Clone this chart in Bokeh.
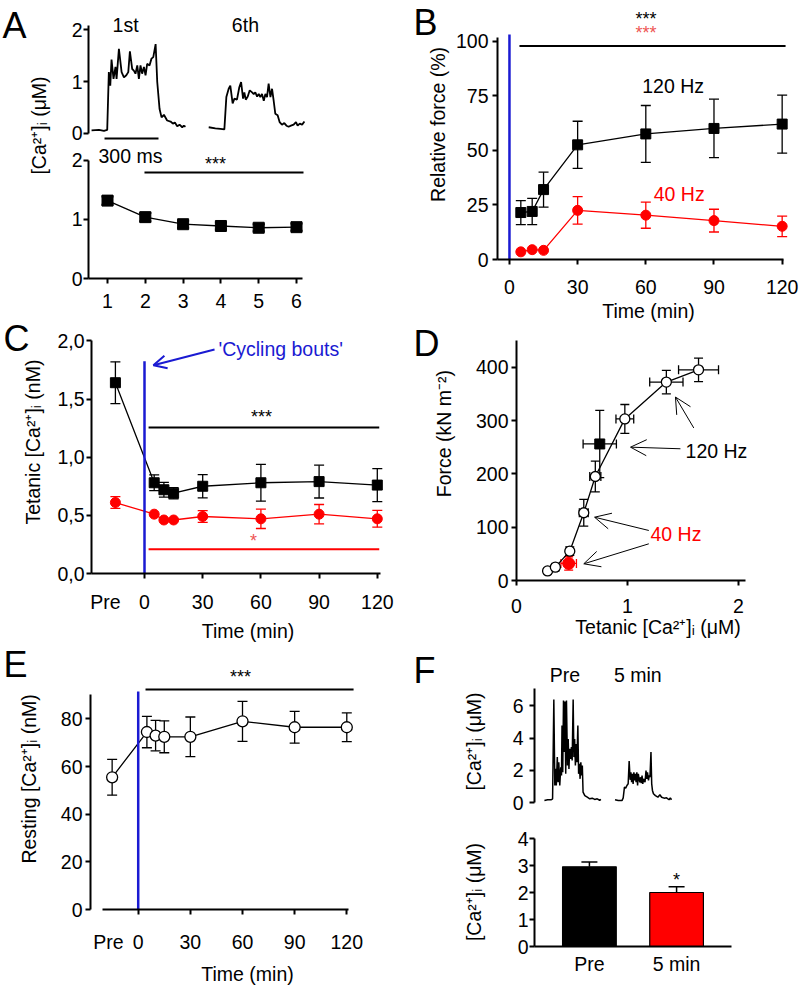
import math
from bokeh.plotting import figure
from bokeh.layouts import row, column
from bokeh.models import (Range1d, FactorRange, FixedTicker, Label, Arrow, OpenHead,
                          TeeHead, Whisker, ColumnDataSource, CustomJSTickFormatter)
from bokeh.core.properties import value
from bokeh.embed import file_html
from bokeh.resources import INLINE

FONT = "Liberation Sans"
FS = "19.5px"
LETTER = "36px"
RED = "#ff0000"
PINK = "#ee5555"
BLUE = "#1a1ad2"

# ---------------- data ----------------
# A: tetanic [Ca2+]i during repeated bouts
a_bout = [1, 2, 3, 4, 5, 6]
a_ca = [1.32, 1.04, 0.92, 0.89, 0.86, 0.87]
a_ca_err = [0.07, 0.07, 0.06, 0.06, 0.06, 0.06]
a_xticks = [1, 2, 3, 4, 5, 6]
a_yticks = [0, 1, 2]
# A: example traces (time in ms, [Ca2+]i in uM)
a_tr1_t = [0, 41, 69, 87, 96, 104, 111, 122, 133, 139, 152, 167, 180, 193, 204, 213, 226, 235, 244, 254,
           263, 272, 281, 291, 300, 309, 322, 333, 343, 356, 365, 378, 389, 402, 420, 439, 452, 463, 476,
           489, 504, 513, 522]
a_tr1_ca = [0.06, 0.07, 0.05, 0.07, 1.18, 0.92, 1.42, 1.05, 1.28, 1.05, 1.63, 1.18, 1.08, 1.12, 1.18, 1.58,
            1.24, 1.21, 1.15, 1.31, 1.05, 1.31, 1.15, 1.28, 1.12, 1.34, 1.31, 1.44, 1.47, 1.72, 0.99, 0.47,
            0.31, 0.36, 0.25, 0.23, 0.19, 0.21, 0.14, 0.17, 0.12, 0.15, 0.13]
a_tr6_t = [0, 37, 65, 87, 98, 111, 120, 133, 143, 157, 170, 180, 191, 198, 206, 217, 228, 241, 250, 259,
           269, 278, 287, 296, 306, 315, 324, 333, 343, 352, 361, 370, 383, 394, 407, 420, 432, 444, 457,
           472, 485, 494, 506, 519, 532]
a_tr6_ca = [0.12, 0.10, 0.09, 0.08, 0.70, 0.86, 0.92, 0.58, 0.67, 0.65, 0.89, 0.99, 0.67, 0.79, 0.65, 0.71,
            0.83, 0.79, 0.76, 0.79, 0.71, 0.76, 0.70, 0.76, 0.63, 0.76, 0.70, 0.96, 0.70, 0.86, 0.63, 0.38,
            0.35, 0.22, 0.17, 0.20, 0.15, 0.13, 0.15, 0.17, 0.22, 0.15, 0.19, 0.17, 0.23]
a_scalebar_ms = 300

# B: relative force
time_min = [5, 10, 15, 30, 60, 90, 120]
time_ticks = [0, 30, 60, 90, 120]
b_force_120 = [21.5, 22.0, 32.0, 52.5, 57.5, 60.0, 62.0]
b_force_120_err = [5.5, 6.0, 8.0, 10.8, 13.0, 13.4, 13.3]
b_force_40 = [3.5, 4.5, 4.2, 22.5, 20.3, 17.8, 15.2]
b_force_40_err = [0.0, 0.0, 0.0, 6.3, 6.0, 5.2, 4.7]
b_yticks = [0, 25, 50, 75, 100]

# C: tetanic [Ca2+]i
c_pre_120, c_pre_120_err = 1.64, 0.18
c_tet_120 = [0.78, 0.72, 0.69, 0.75, 0.78, 0.79, 0.76]
c_tet_120_err = [0.068, 0.063, 0.048, 0.10, 0.158, 0.141, 0.142]
c_pre_40, c_pre_40_err = 0.61, 0.05
c_tet_40 = [0.51, 0.46, 0.46, 0.49, 0.47, 0.51, 0.47]
c_tet_40_err = [0.0, 0.0, 0.0, 0.05, 0.083, 0.083, 0.072]
c_yticks = [0, 0.5, 1.0, 1.5, 2.0]

# D: force vs tetanic [Ca2+]i
d_ca = [0.28, 0.35, 0.48, 0.606, 0.71, 0.976, 1.35, 1.64]
d_ca_err = [0.02, 0.03, 0.03, 0.04, 0.05, 0.08, 0.15, 0.18]
d_force = [18, 25, 55, 127, 195, 303, 372, 395]
d_force_err = [5, 5, 8, 25, 29, 27, 22, 22]
d_120_ca, d_120_ca_err, d_120_force, d_120_force_err = 0.75, 0.15, 256, 63
d_40_ca, d_40_ca_err, d_40_force, d_40_force_err = 0.47, 0.07, 32, 12.5
d_xticks = [0, 1, 2]
d_yticks = [0, 100, 200, 300, 400]

# E: resting [Ca2+]i
e_pre, e_pre_err = 55.5, 7.5
e_rest = [74.5, 73.0, 72.5, 72.5, 79.0, 76.5, 76.5]
e_rest_err = [6.6, 6.4, 6.7, 8.3, 8.4, 6.7, 6.0]
e_yticks = [0, 20, 40, 60, 80]

# F: traces and peak [Ca2+]i
f_tr_pre_t = [0, 13, 28, 33, 38, 42, 46, 48, 52, 55, 58, 62, 66, 69, 71, 74, 77, 80, 83, 86, 89, 93, 96, 99,
              102, 106, 109, 112, 116, 119, 122, 125, 128, 131, 135, 138, 141, 144, 147, 150, 153, 156, 163,
              173, 183, 193, 203, 213, 223, 228]
f_tr_pre_ca = [0.12, 0.17, 0.17, 0.23, 6.4, 1.06, 2.09, 1.06, 2.82, 1.26, 2.5, 1.06, 2.19, 1.68, 4.78, 1.88,
               6.34, 3.13, 6.27, 1.78, 6.34, 2.30, 3.95, 2.09, 3.33, 2.71, 3.44, 2.61, 6.40, 2.82, 3.95, 2.30,
               3.64, 2.50, 4.78, 1.78, 2.40, 1.47, 2.50, 1.68, 2.30, 0.64, 0.43, 0.33, 0.23, 0.27, 0.19, 0.23,
               0.14, 0.19]
f_tr_5_t = [0, 13, 28, 33, 38, 43, 48, 53, 57, 61, 64, 67, 70, 73, 76, 79, 82, 85, 88, 91, 94, 97, 100, 103,
            106, 109, 112, 115, 118, 121, 125, 128, 131, 135, 138, 141, 145, 148, 151, 155, 163, 173, 181, 188,
            198, 208, 218, 223, 228]
f_tr_5_ca = [0.17, 0.12, 0.12, 0.29, 0.95, 0.89, 1.06, 1.16, 2.57, 1.41, 1.88, 1.26, 1.78, 1.16, 1.88, 1.37,
             1.78, 1.26, 1.88, 1.06, 1.78, 1.47, 1.26, 1.57, 1.20, 1.68, 1.16, 1.47, 1.37, 1.26, 1.99, 1.47,
             1.88, 1.37, 1.68, 1.57, 3.13, 1.16, 0.75, 0.54, 0.43, 0.33, 0.48, 0.33, 0.27, 0.29, 0.17, 0.29, 0.17]
f_groups = ["Pre", "5 min"]
f_peak = [2.95, 2.0]
f_peak_err = [0.18, 0.21]
f_colors = ["black", RED]
f_tr_yticks = [0, 2, 4, 6]
f_bar_yticks = [0, 1, 2, 3, 4]

bout_time = 0        # start of cycling bouts
pre_pos = -15        # x position used for the "Pre" point
pre_label_c = -20.1  # where the "Pre" tick label sits in C
pre_label_e = -17.1  # and in E

CA_I = "[Ca\u00b2\u207a]\u1d62"


# ---------------- helpers ----------------
def make_fig(w, h, xr, yr, left, right, top, bottom, xtype="linear", ytype="linear"):
    p = figure(width=w, height=h, x_range=xr, y_range=yr, output_backend="svg",
               toolbar_location=None, title_location=None, x_axis_type=xtype, y_axis_type=ytype,
               min_border_left=left, min_border_right=right, min_border_top=top,
               min_border_bottom=bottom)
    p.outline_line_color = None
    p.xgrid.visible = False
    p.ygrid.visible = False
    p.border_fill_color = "white"
    p.background_fill_color = "white"
    for ax in p.axis:
        ax.axis_line_width = 2
        ax.axis_line_color = "black"
        ax.major_tick_line_width = 2
        ax.major_tick_line_color = "black"
        ax.major_tick_out = 5
        ax.major_tick_in = 0
        ax.minor_tick_line_color = None
        ax.major_label_text_font = FONT
        ax.major_label_text_font_size = FS
        ax.major_label_text_color = "black"
        ax.axis_label_text_font = FONT
        ax.axis_label_text_font_size = FS
        ax.axis_label_text_font_style = "normal"
        ax.axis_label_text_color = "black"
    return p


def helper(w, h):
    p = figure(width=w, height=h, x_range=Range1d(0, w), y_range=Range1d(h, 0),
               x_axis_type=None, y_axis_type=None, output_backend="svg", toolbar_location=None,
               title_location=None, min_border=0)
    p.outline_line_color = None
    p.border_fill_color = "white"
    p.background_fill_color = "white"
    return p


def lab(p, x, y, s, size=FS, color="black", align="center", baseline="middle", angle=0.0):
    p.add_layout(Label(x=x, y=y, text=s, text_font=FONT, text_font_size=size, text_color=color,
                       text_align=align, text_baseline=baseline, angle=angle))


def letter(p, x, y, s):
    lab(p, x, y, s, size=LETTER, align="left", baseline="middle")


def vlabel(p, x, y, s):
    lab(p, x, y, s, angle=math.pi / 2)


def stars(p, x, y, s, color="black"):
    lab(p, x, y, s, size="18px", color=color, baseline="alphabetic")


def yerr(p, x, y, e, color="black", size=10, width=1.3):
    idx = [i for i in range(len(x)) if e[i] > 0]
    src = ColumnDataSource(dict(b=[x[i] for i in idx], lo=[y[i] - e[i] for i in idx],
                                hi=[y[i] + e[i] for i in idx]))
    p.add_layout(Whisker(base="b", lower="lo", upper="hi", source=src, line_color=color, line_width=width,
                         upper_head=TeeHead(size=size, line_color=color, line_width=width),
                         lower_head=TeeHead(size=size, line_color=color, line_width=width)))


def xerr(p, x, y, e, color="black", size=10, width=1.3):
    src = ColumnDataSource(dict(b=list(y), lo=[x[i] - e[i] for i in range(len(x))],
                                hi=[x[i] + e[i] for i in range(len(x))]))
    p.add_layout(Whisker(base="b", lower="lo", upper="hi", source=src, dimension="width",
                         line_color=color, line_width=width,
                         upper_head=TeeHead(size=size, line_color=color, line_width=width),
                         lower_head=TeeHead(size=size, line_color=color, line_width=width)))


def pre_axis(ax, pre_label):
    ax.ticker = FixedTicker(ticks=[pre_label] + time_ticks, minor_ticks=time_ticks)
    ax.formatter = CustomJSTickFormatter(code="return tick < -5 ? 'Pre' : tick.toFixed(0);")
    ax.major_tick_line_color = None
    ax.minor_tick_line_color = "black"
    ax.minor_tick_line_width = 2
    ax.minor_tick_out = 5
    ax.minor_tick_in = 0


# ---------------- Panel A (left column, y 0..318) ----------------
pa_l = helper(58, 318)
letter(pa_l, 2, 25, "A")
vlabel(pa_l, 38, 125, CA_I + " (\u03bcM)")

pa_t = make_fig(346, 145, Range1d(0, 1756), Range1d(-0.231, 2.558), 30, 0, 0, 0, xtype=None)
pa_t.yaxis.bounds = (0, 2.08)
pa_t.yaxis.ticker = FixedTicker(ticks=a_yticks)
pa_t.yaxis.major_label_standoff = 1
tr1_off, tr6_off = 17, 668
pa_t.line([t + tr1_off for t in a_tr1_t], a_tr1_ca, line_color="black", line_width=1.8)
pa_t.line([t + tr6_off for t in a_tr6_t], a_tr6_ca, line_color="black", line_width=1.8)
pa_t.segment(x0=[89], y0=[-0.096], x1=[89 + a_scalebar_ms], y1=[-0.096], line_color="black", line_width=2)
lab(pa_t, 206, 2.08, "1st")
lab(pa_t, 872, 2.08, "6th")

pa_b = make_fig(346, 173, Range1d(0.497, 8.857), Range1d(0, 2.254), 30, 0, 0, 40)
pa_b.xaxis.bounds = (0.497, 6.15)
pa_b.yaxis.bounds = (0, 2)
pa_b.xaxis.ticker = FixedTicker(ticks=a_xticks)
pa_b.yaxis.ticker = FixedTicker(ticks=a_yticks)
pa_b.yaxis.major_label_standoff = 1
pa_b.xaxis.major_label_standoff = 10
pa_b.line(a_bout, a_ca, line_color="black", line_width=1.3)
yerr(pa_b, a_bout, a_ca, a_ca_err, size=12, width=2)
pa_b.scatter(a_bout, a_ca, marker="square", size=11, fill_color="black", line_color="black")
pa_b.segment(x0=[1.978], y0=[1.797], x1=[6.185], y1=[1.797], line_color="black", line_width=2)
stars(pa_b, 3.857, 1.941, "***")
lab(pa_b, 1.608, 2.07, str(a_scalebar_ms) + " ms")

panel_a = row(pa_l, column(pa_t, pa_b))

# ---------------- Panel B (right column, y 0..324) ----------------
pb_l = helper(48, 324)
letter(pb_l, 9, 28, "B")
vlabel(pb_l, 33, 155, "Relative force (%)")

pb = make_fig(347, 324, Range1d(-5.263, 127.63), Range1d(0, 118.58), 44, 0, 0, 56)
pb.xaxis.bounds = (-5.263, 120.8)
pb.yaxis.bounds = (0, 101.5)
pb.xaxis.ticker = FixedTicker(ticks=time_ticks)
pb.yaxis.ticker = FixedTicker(ticks=b_yticks)
pb.xaxis.axis_label = "Time (min)"
pb.yaxis.major_label_standoff = 4
pb.xaxis.major_label_standoff = 15
pb.xaxis.axis_label_standoff = 3
pb.line(time_min, b_force_120, line_color="black", line_width=1.3)
pb.line(time_min, b_force_40, line_color=RED, line_width=1.3)
yerr(pb, time_min, b_force_120, b_force_120_err)
yerr(pb, time_min, b_force_40, b_force_40_err, color=RED)
pb.scatter(time_min, b_force_120, marker="square", size=10, fill_color="black", line_color="black")
pb.scatter(time_min, b_force_40, marker="circle", size=10, fill_color=RED, line_color=RED)
pb.segment(x0=[bout_time], y0=[0], x1=[bout_time], y1=[103], line_color=BLUE, line_width=2.5)
pb.segment(x0=[4.4], y0=[97.8], x1=[121.5], y1=[97.8], line_color="black", line_width=2)
stars(pb, 60.1, 110.2, "***")
stars(pb, 60.1, 103.5, "***", color=PINK)
lab(pb, 72.0, 79.6, "120 Hz")
lab(pb, 74.7, 30.1, "40 Hz", color=RED)

panel_b = row(pb_l, pb)

# ---------------- Panel C (left column, y 318..644) ----------------
pc_l = helper(52, 326)
letter(pc_l, 3, 25, "C")
vlabel(pc_l, 32, 158, "Tetanic " + CA_I + " (nM)")

pc = make_fig(352, 326, Range1d(-27.32, 134.02), Range1d(0, 2.192), 39, 0, 0, 64)
pc.xaxis.bounds = (-27.32, 121.5)
pc.yaxis.bounds = (0, 2.0)
pre_axis(pc.xaxis[0], pre_label_c)
pc.yaxis.ticker = FixedTicker(ticks=c_yticks)
pc.yaxis.formatter = CustomJSTickFormatter(code="return tick.toFixed(1).replace('.', ',');")
pc.xaxis.axis_label = "Time (min)"
pc.yaxis.major_label_standoff = 2
pc.xaxis.major_label_standoff = 12
pc.xaxis.axis_label_standoff = 4
cx = [pre_pos] + time_min
c120 = [c_pre_120] + c_tet_120
c120e = [c_pre_120_err] + c_tet_120_err
c40 = [c_pre_40] + c_tet_40
c40e = [c_pre_40_err] + c_tet_40_err
pc.line(cx, c120, line_color="black", line_width=1.3)
pc.line(cx, c40, line_color=RED, line_width=1.3)
yerr(pc, cx, c120, c120e)
yerr(pc, cx, c40, c40e, color=RED)
pc.scatter(cx, c120, marker="square", size=10, fill_color="black", line_color="black")
pc.scatter(cx, c40, marker="circle", size=10, fill_color=RED, line_color=RED)
pc.segment(x0=[bout_time], y0=[-0.05], x1=[bout_time], y1=[1.824], line_color=BLUE, line_width=2.5)
pc.segment(x0=[2.1], y0=[1.255], x1=[121], y1=[1.255], line_color="black", line_width=2)
pc.segment(x0=[2.1], y0=[0.209], x1=[121], y1=[0.209], line_color=RED, line_width=2)
stars(pc, 60.3, 1.347, "***")
stars(pc, 56.2, 0.276, "*", color=PINK)
pc.add_layout(Arrow(end=OpenHead(size=13, line_color=BLUE, line_width=2), x_start=36.1, y_start=1.925,
                    x_end=4.6, y_end=1.79, line_color=BLUE, line_width=2))
lab(pc, 38.1, 1.933, "'Cycling bouts'", color=BLUE, align="left")

panel_c = row(pc_l, pc)

# ---------------- Panel D (right column, y 324..642) ----------------
pd_l = helper(54, 318)
letter(pd_l, 9, 24, "D")
vlabel(pd_l, 39, 135.5, "Force (kN m\u207b\u00b2)")

pd_ = make_fig(341, 318, Range1d(0, 2.5495), Range1d(0, 480), 58, 0, 0, 62)
pd_.xaxis.bounds = (0, 2.06)
pd_.yaxis.bounds = (0, 450)
pd_.xaxis.ticker = FixedTicker(ticks=d_xticks)
pd_.yaxis.ticker = FixedTicker(ticks=d_yticks)
pd_.xaxis.axis_label = "Tetanic " + CA_I + " (\u03bcM)"
pd_.yaxis.major_label_standoff = 3
pd_.xaxis.major_label_standoff = 13
pd_.xaxis.axis_label_standoff = 0
pd_.line(d_ca, d_force, line_color="black", line_width=1.3)
yerr(pd_, d_ca, d_force, d_force_err, size=9)
xerr(pd_, d_ca, d_force, d_ca_err, size=9)
yerr(pd_, [d_120_ca], [d_120_force], [d_120_force_err], size=9)
xerr(pd_, [d_120_ca], [d_120_force], [d_120_ca_err], size=9)
yerr(pd_, [d_40_ca], [d_40_force], [d_40_force_err], color=RED, size=9)
xerr(pd_, [d_40_ca], [d_40_force], [d_40_ca_err], color=RED, size=9)
pd_.scatter(d_ca, d_force, marker="circle", size=10, fill_color="white", line_color="black", line_width=1.3)
pd_.scatter([d_120_ca], [d_120_force], marker="square", size=10, fill_color="black", line_color="black")
pd_.scatter([d_40_ca], [d_40_force], marker="circle", size=12, fill_color=RED, line_color=RED)
for xs, ys, xe, ye in [(1.477, 247, 1.027, 250), (1.597, 286, 1.432, 344),
                       (1.192, 93.8, 0.703, 118.7), (1.192, 68.8, 0.606, 31.3)]:
    pd_.add_layout(Arrow(end=OpenHead(size=16, line_color="black", line_width=1), x_start=xs, y_start=ys,
                         x_end=xe, y_end=ye, line_color="black", line_width=1))
lab(pd_, 1.523, 242, "120 Hz", align="left")
lab(pd_, 1.207, 88, "40 Hz", color=RED, align="left")

panel_d = row(pd_l, pd_)

# ---------------- Panel E (left column, y 644..987) ----------------
pe_l = helper(50, 343)
letter(pe_l, 3, 26.5, "E")
vlabel(pe_l, 28, 174, "Resting " + CA_I + " (nM)")

pe = make_fig(354, 343, Range1d(-27.45, 153.2), Range1d(0, 111.24), 40, 0, 0, 61)
pe.xaxis.bounds = (-20.5, 121.2)
pe.yaxis.bounds = (0, 90.3)
pre_axis(pe.xaxis[0], pre_label_e)
pe.yaxis.ticker = FixedTicker(ticks=e_yticks)
pe.xaxis.axis_label = "Time (min)"
pe.yaxis.major_label_standoff = 3
pe.xaxis.major_label_standoff = 16
pe.xaxis.axis_label_standoff = 7
ex = [pre_pos] + time_min
ey = [e_pre] + e_rest
eye = [e_pre_err] + e_rest_err
pe.line(ex, ey, line_color="black", line_width=1.3)
yerr(pe, ex, ey, eye)
pe.scatter(ex, ey, marker="circle", size=11, fill_color="white", line_color="black", line_width=1.3)
pe.segment(x0=[bout_time], y0=[0], x1=[bout_time], y1=[91.5], line_color=BLUE, line_width=2.5)
pe.segment(x0=[4.2], y0=[92.3], x1=[123.9], y1=[92.3], line_color="black", line_width=2)
stars(pe, 58.9, 97.4, "***")

panel_e = row(pe_l, pe)

# ---------------- Panel F (right column, y 642..987) ----------------
pf_l = helper(91, 345)
letter(pf_l, 9, 28, "F")
vlabel(pf_l, 69, 99, CA_I + " (\u03bcM)")
vlabel(pf_l, 69, 249.5, CA_I + " (\u03bcM)")

pf_t = make_fig(304, 173, Range1d(0, 795), Range1d(-0.807, 9.938), 39, 0, 0, 0, xtype=None)
pf_t.yaxis.bounds = (0, 7.05)
pf_t.yaxis.ticker = FixedTicker(ticks=f_tr_yticks)
pf_t.yaxis.major_label_standoff = 6
pre_off, min5_off = 40, 325
pf_t.line([t + pre_off for t in f_tr_pre_t], f_tr_pre_ca, line_color="black", line_width=1.5)
pf_t.line([t + min5_off for t in f_tr_5_t], f_tr_5_ca, line_color="black", line_width=1.5)
lab(pf_t, 123, 7.89, "Pre")
lab(pf_t, 417, 7.89, "5 min")

pf_b = make_fig(304, 172, FactorRange(factors=f_groups, range_padding=0.13, range_padding_units="absolute"),
                Range1d(0, 4.852), 34, 68, 0, 41, xtype="auto")
pf_b.yaxis.bounds = (0, 4)
pf_b.yaxis.ticker = FixedTicker(ticks=f_bar_yticks)
pf_b.yaxis.major_label_standoff = 1
pf_b.xaxis.major_tick_line_color = None
pf_b.xaxis.major_tick_out = 0
pf_b.xaxis.major_label_standoff = 6
fsrc = ColumnDataSource(dict(g=f_groups, v=f_peak, c=f_colors,
                             hi=[f_peak[i] + f_peak_err[i] for i in range(2)]))
pf_b.add_layout(Whisker(base="g", lower="v", upper="hi", source=fsrc, line_color="black", line_width=1.5,
                        lower_head=None, upper_head=TeeHead(size=16, line_color="black", line_width=1.5)))
pf_b.vbar(x="g", top="v", width=0.616, fill_color="c", line_color="black", line_width=1.2, source=fsrc)
pf_b.text(x=["5 min"], y=[2.47], text=["*"], text_font=value(FONT), text_font_size="18px",
          text_align="center", text_baseline="alphabetic", text_color="black")

panel_f = row(pf_l, column(pf_t, pf_b))

layout = row(column(panel_a, panel_c, panel_e), column(panel_b, panel_d, panel_f))
open("out.html", "w").write(file_html(layout, INLINE))
